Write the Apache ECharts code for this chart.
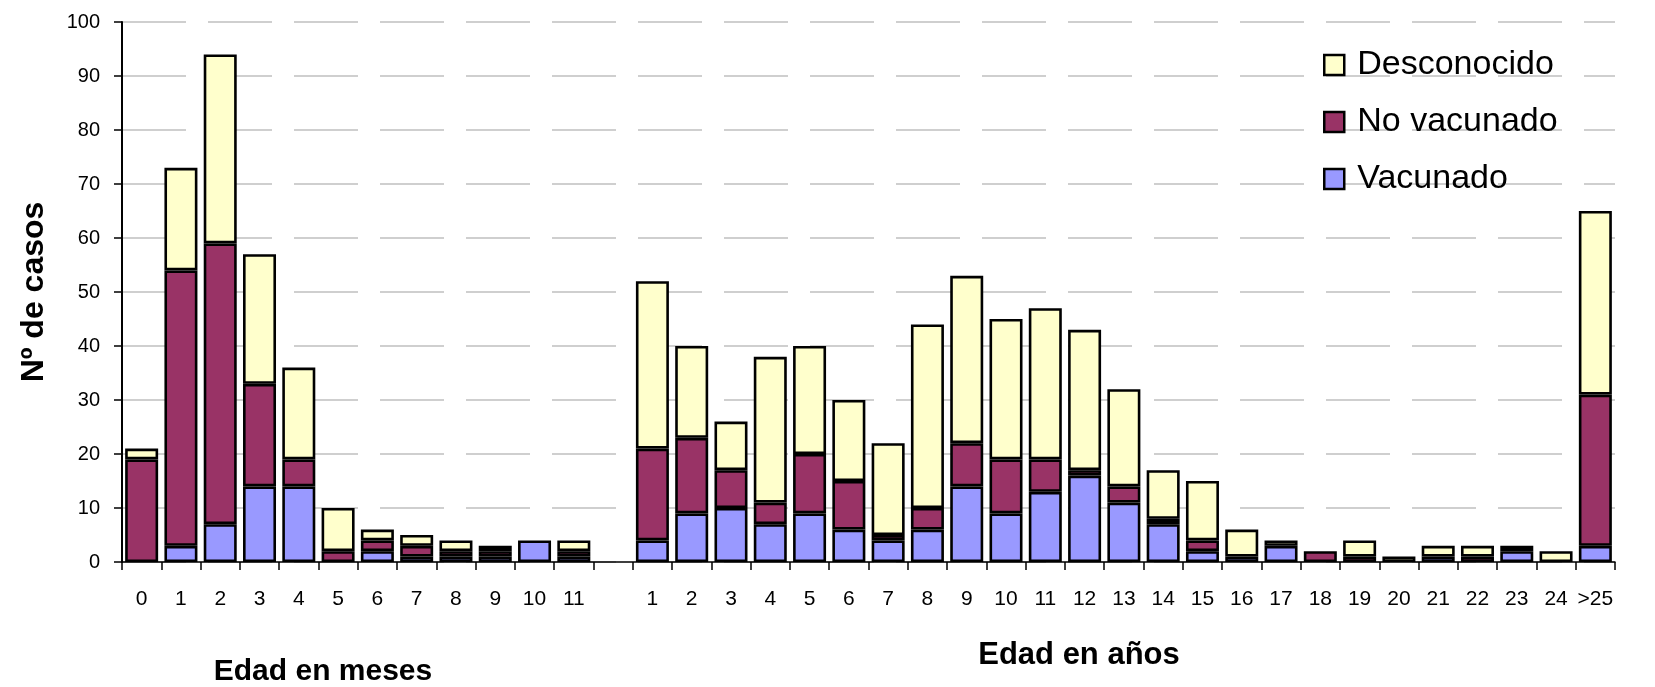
<!DOCTYPE html>
<html>
<head>
<meta charset="utf-8">
<script src="https://cdn.jsdelivr.net/npm/echarts@6/dist/echarts.min.js"></script>
<style>
  html, body { margin: 0; padding: 0; background: #fff; }
  #chart { width: 1655px; height: 687px; }
</style>
</head>
<body>
<div id="chart"></div>
<script>
// categorias: meses 0-11, hueco, años 1-24 y >25
var categories = ['0','1','2','3','4','5','6','7','8','9','10','11','',
  '1','2','3','4','5','6','7','8','9','10','11','12','13','14','15','16','17','18','19','20','21','22','23','24','>25'];

var vacunado = [0,3,7,14,14,0,2,1,1,1,4,1,'-',
  4,9,10,7,9,6,4,6,14,9,13,16,11,7,2,1,3,0,0,0,1,0,2,0,3];
var noVacunado = [19,51,52,19,5,2,2,2,1,1,0,1,'-',
  17,14,7,4,11,9,1,4,8,10,6,1,3,1,2,0,0,2,1,0,0,1,1,0,28];
var desconocido = [2,19,35,24,17,8,2,2,2,1,0,2,'-',
  31,17,9,27,20,15,17,34,31,26,28,26,18,9,11,5,1,0,3,1,2,2,0,2,34];

var legendNames = ['Desconocido', 'No vacunado', 'Vacunado'];

var FONT = '"Liberation Sans", Arial, sans-serif';

function barSeries(name, data, color) {
  return {
    name: name,
    type: 'bar',
    stack: 'total',
    barCategoryGap: '16%',
    // los ceros no se dibujan (evita bordes dobles)
    data: data.map(function (v) { return v === 0 ? '-' : v; }),
    itemStyle: { color: color, borderColor: '#000', borderWidth: 2.6 },
    emphasis: { disabled: true }
  };
}

var chart = echarts.init(document.getElementById('chart'));
chart.setOption({
  animation: false,
  textStyle: { fontFamily: FONT },
  grid: { left: 122, right: 40, top: 22, bottom: 125 },
  legend: {
    data: legendNames,
    orient: 'vertical',
    left: 1318,
    top: 43,
    icon: 'rect',
    itemWidth: 20,
    itemHeight: 20,
    itemGap: 23,
    itemStyle: { borderWidth: 2.5, borderColor: '#000' },
    textStyle: { fontSize: 34, color: '#000', fontFamily: FONT, padding: [0, 0, 0, 8] }
  },
  xAxis: {
    type: 'category',
    data: categories,
    axisLine: { lineStyle: { color: '#000', width: 1.5 } },
    axisTick: { show: true, interval: 0, length: 8, lineStyle: { color: '#000', width: 1.5 } },
    axisLabel: { interval: 0, fontSize: 21, color: '#000', margin: 27 }
  },
  yAxis: {
    type: 'value',
    min: 0,
    max: 100,
    interval: 10,
    name: 'Nº de casos',
    nameLocation: 'middle',
    nameRotate: 90,
    nameGap: 72,
    nameTextStyle: { fontSize: 32, fontWeight: 'bold', color: '#000', fontFamily: FONT },
    axisLine: { show: true, lineStyle: { color: '#000', width: 2 } },
    axisTick: { show: true, length: 8, lineStyle: { color: '#000', width: 1.5 } },
    axisLabel: { fontSize: 20, color: '#000', margin: 22 },
    splitLine: { lineStyle: { color: '#c0c0c0', width: 1.5, type: [64, 22] } }
  },
  graphic: [
    {
      type: 'text', x: 323, y: 672,
      style: { text: 'Edad en meses', font: 'bold 30px ' + FONT, fill: '#000', align: 'center', verticalAlign: 'middle' }
    },
    {
      type: 'text', x: 1079, y: 655,
      style: { text: 'Edad en años', font: 'bold 31px ' + FONT, fill: '#000', align: 'center', verticalAlign: 'middle' }
    }
  ],
  series: [
    barSeries('Vacunado', vacunado, '#9999FF'),
    barSeries('No vacunado', noVacunado, '#993366'),
    barSeries('Desconocido', desconocido, '#FFFFCC')
  ]
});
</script>
</body>
</html>
